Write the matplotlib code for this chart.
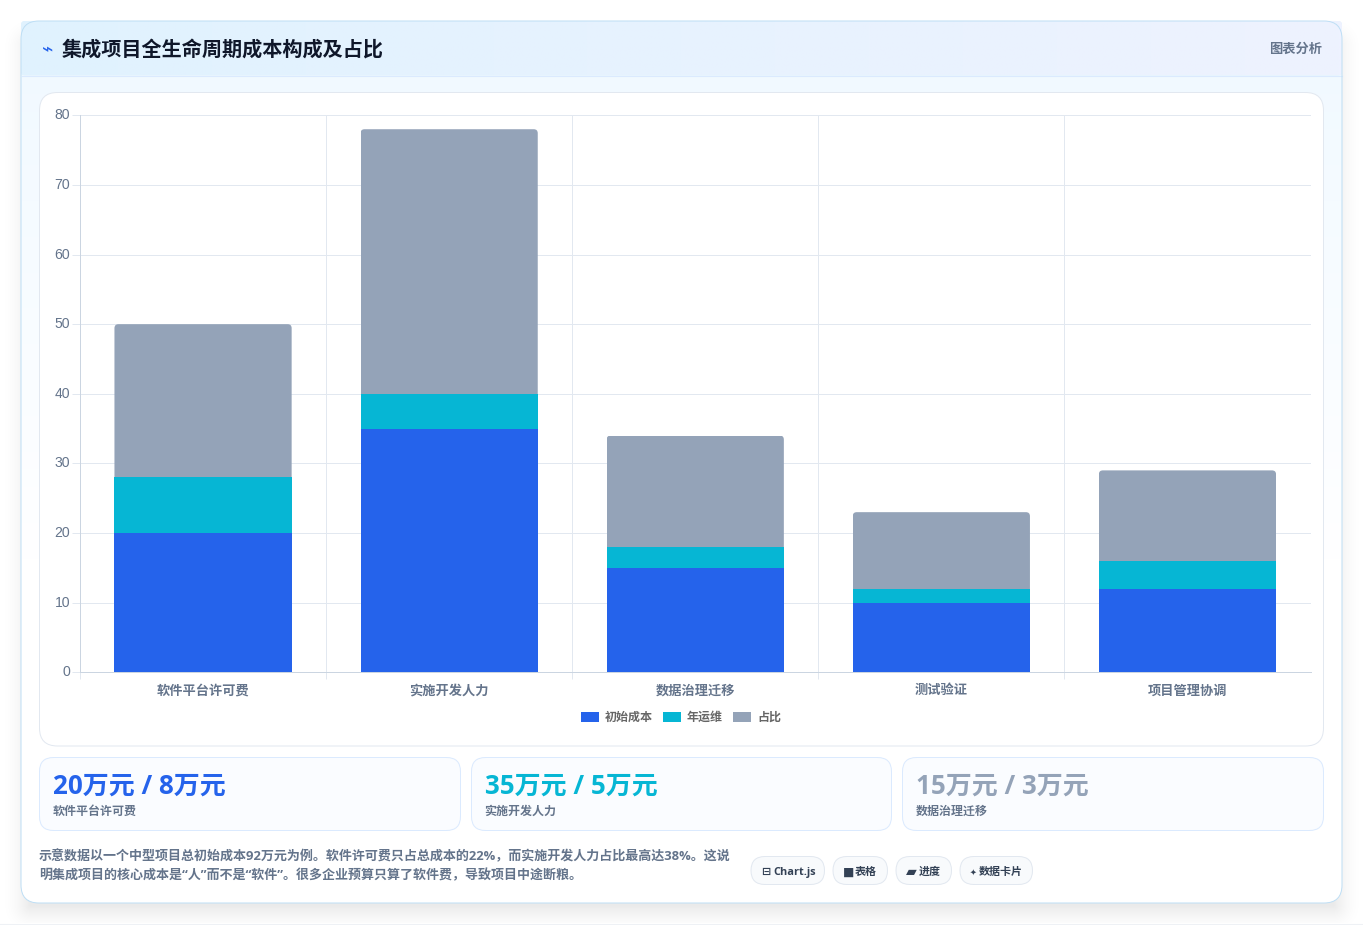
import numpy as np
import matplotlib
matplotlib.use("Agg")
import matplotlib.pyplot as plt
from matplotlib.patches import FancyBboxPatch
from matplotlib.transforms import IdentityTransform

categories = ["软件平台许可费", "实施开发人力", "数据治理迁移", "测试验证", "项目管理协调"]
initial_cost = [20, 35, 15, 10, 12]
annual_cost = [8, 5, 3, 2, 4]
share_pct = [22, 38, 16, 11, 13]
series_names = ["初始成本", "年运维", "占比"]
y_ticks = [0, 10, 20, 30, 40, 50, 60, 70, 80]

stat_values = ["20万元 / 8万元", "35万元 / 5万元", "15万元 / 3万元"]
stat_labels = ["软件平台许可费", "实施开发人力", "数据治理迁移"]
note_lines = [
    "示意数据以一个中型项目总初始成本92万元为例。软件许可费只占总成本的22%，而实施开发人力占比最高达38%。这说",
    "明集成项目的核心成本是“人”而不是“软件”。很多企业预算只算了软件费，导致项目中途断粮。",
]
chip_icons = ["⊟", "■", "▰", "✦"]
chip_labels = ["Chart.js", "表格", "进度", "数据卡片"]

BLUE, CYAN, GREY = "#2563eb", "#06b6d4", "#94a3b8"
W, H = 1363, 925
CJK = ["Noto Sans CJK SC", "DejaVu Sans"]
LATIN = ["Open Sans", "Noto Sans CJK SC", "DejaVu Sans"]
PX = 0.72  # pixels to points at dpi 100

plt.rcParams["font.family"] = CJK
fig = plt.figure(figsize=(W / 100, H / 100), dpi=100, facecolor="white")

# page layer in pixel coordinates
bg = fig.add_axes([0, 0, 1, 1])
bg.axis("off")


def rounded(x0, y0, x1, y1, r, fc="white", ec="none", lw=1.0, z=1):
    p = FancyBboxPatch((x0, y0), x1 - x0, y1 - y0, boxstyle=f"round,pad=0,rounding_size={r}",
                       fc=fc, ec=ec, lw=lw * PX, zorder=z)
    bg.add_patch(p)
    return p


def gradient(x0, y0, x1, y1, c0, c1, clip, horizontal=False, z=2):
    c0 = np.array(matplotlib.colors.to_rgb(c0))
    c1 = np.array(matplotlib.colors.to_rgb(c1))
    t = np.linspace(0, 1, 256)
    row = c0 + (c1 - c0) * t[:, None]
    img = row[None, :, :] if horizontal else row[:, None, :]
    im = bg.imshow(img, extent=(x0, x1, y1, y0), aspect="auto", zorder=z, interpolation="bilinear")
    im.set_clip_path(clip)


# soft drop shadow under the card
yy, xx = np.mgrid[0:923, 0:W]
dx = np.maximum(np.maximum(30 - xx, xx - 1333), 0)
dy = np.maximum(np.maximum(45 - yy, yy - 905), 0)
dist = np.hypot(dx, dy)
alpha = 0.085 * np.clip(1 - dist / 32, 0, 1) ** 2
shadow = np.zeros((923, W, 4))
shadow[..., 3] = alpha
bg.imshow(shadow, extent=(0, W, 923, 0), aspect="auto", zorder=0)
bg.plot([0, W], [923.5, 923.5], color="#eef1f5", lw=0.8, zorder=0)

# outer card with header band
card = rounded(21, 21, 1342, 903, 18, fc="white", z=1)
gradient(21, 21, 1342, 560, "#f0f9ff", "#ffffff", card, z=1.5)
head = rounded(21, 21, 1342, 75.5, 4, fc="#e0f2fe", z=2)
gradient(21, 21, 1342, 75.5, "#e0f2fe", "#eef2ff", head, horizontal=True, z=2.1)
bg.plot([21.5, 1341.5], [75.5, 75.5], color="#dbeafe", lw=0.8, zorder=2.2)
rounded(21, 21, 1342, 903, 18, fc="none", ec="#bfdff5", z=2.3)

bg.text(47.5, 50, "⌁", color=BLUE, fontsize=19 * PX, family=["DejaVu Sans"], ha="center", va="center", zorder=3)
bg.text(62, 50, "集成项目全生命周期成本构成及占比", color="#0f172a", fontsize=20.1 * PX, fontweight="bold",
        va="center", zorder=3)
bg.text(1322, 49, "图表分析", color="#64748b", fontsize=13.2 * PX, fontweight="bold", ha="right", va="center", zorder=3)

# chart panel
rounded(39.5, 92.5, 1323.5, 746, 18, fc="white", ec="#e2e8f0", z=3)

# stat cards
stat_boxes = [(39.5, 460.5), (471.5, 891.5), (902.5, 1323.5)]
stat_colors = [BLUE, CYAN, GREY]
for (x0, x1), val, lab, col in zip(stat_boxes, stat_values, stat_labels, stat_colors):
    box = rounded(x0, 757.5, x1, 830.5, 14, fc="#fafcff", ec="#dbeafe", z=3)
    bg.text(x0 + 13.5, 786, val, color=col, fontsize=26 * PX, fontweight="bold", family=LATIN, va="center", zorder=4)
    bg.text(x0 + 13, 811.5, lab, color="#64748b", fontsize=12 * PX, fontweight="bold", va="center", zorder=4)

# footnote
for y, line in zip([856, 876], note_lines):
    bg.text(39, y, line, color="#64748b", fontsize=13 * PX, fontweight="bold", family=LATIN, va="center", zorder=4)

# tool chips
chip_boxes = [(751, 824.5), (833, 887.5), (896, 951.5), (960, 1032.5)]
icon_x = [15, 15.5, 15, 13]
icon_size = [11, 12, 14, 8]
label_x = [22, 22, 23, 19]
for i, ((x0, x1), icon, lab) in enumerate(zip(chip_boxes, chip_icons, chip_labels)):
    rounded(x0, 856.5, x1, 884.5, 14, fc="#f8fafc", ec="#e2e8f0", z=3)
    bg.text(x0 + icon_x[i], 872, icon, color="#334155", fontsize=icon_size[i] * PX, family=["DejaVu Sans"],
            fontweight="bold", ha="center", va="center", zorder=4)
    bg.text(x0 + label_x[i], 872, lab, color="#334155", fontsize=11 * PX, fontweight="bold", family=LATIN,
            va="center", zorder=4)

bg.set_xlim(0, W)
bg.set_ylim(H, 0)

# stacked bars
ax = fig.add_axes([80 / W, 1 - 672.3 / H, (1310.5 - 80) / W, (672.3 - 115.3) / H], zorder=5)
ax.patch.set_alpha(0)
x = np.arange(len(categories))
initial = np.array(initial_cost)
annual = np.array(annual_cost)
share = np.array(share_pct)
ax.bar(x, initial, 0.72, color=BLUE, label=series_names[0], zorder=3)
ax.bar(x, annual, 0.72, bottom=initial, color=CYAN, label=series_names[1], zorder=3)
top_bars = ax.bar(x, share, 0.72, bottom=initial + annual, color=GREY, label=series_names[2], zorder=3)

ax.set_xlim(-0.5, 4.5)
ax.set_ylim(0, 80)
ax.set_yticks(y_ticks)
ax.set_xticks(x, categories)
ax.set_xticks(np.arange(-0.5, 4.5), minor=True)
ax.grid(True, which="major", axis="y", color="#e2e8f0", lw=0.72)
ax.grid(True, which="minor", axis="x", color="#e2e8f0", lw=0.72)
ax.set_axisbelow(True)
ax.tick_params(axis="y", length=8 * PX, width=0.72, color="#e2e8f0", pad=2 * PX,
               labelsize=14 * PX, labelcolor="#64748b")
ax.tick_params(axis="x", which="major", length=0, pad=11 * PX, labelsize=13.2 * PX, labelcolor="#64748b")
ax.tick_params(axis="x", which="minor", length=7 * PX, width=0.72, color="#e2e8f0")
for lab in ax.get_yticklabels():
    lab.set_family(["Liberation Sans"])
    lab.set_verticalalignment("center")
for lab in ax.get_xticklabels():
    lab.set_fontweight("bold")
for side in ["top", "right"]:
    ax.spines[side].set_visible(False)
for side in ["left", "bottom"]:
    ax.spines[side].set_color("#cbd5e1")
    ax.spines[side].set_linewidth(0.72)

leg = ax.legend(loc="center", bbox_to_anchor=(681 / W, 1 - 717.5 / H), bbox_transform=fig.transFigure, ncol=3,
                frameon=False, fontsize=12 * PX, handlelength=1.5, handleheight=0.9, handletextpad=0.5,
                columnspacing=0.85, borderpad=0, borderaxespad=0)
for t in leg.get_texts():
    t.set_color("#666666")
    t.set_fontweight("bold")

# round the top corners of the uppermost segments
fig.canvas.draw()
for rect in top_bars:
    box = rect.get_window_extent()
    clip = FancyBboxPatch((box.x0, box.y0 - 10), box.width, box.height + 10,
                          boxstyle="round,pad=0,rounding_size=4", transform=IdentityTransform())
    rect.set_clip_path(clip)

fig.savefig("out.png", dpi=100)
plt.close(fig)
